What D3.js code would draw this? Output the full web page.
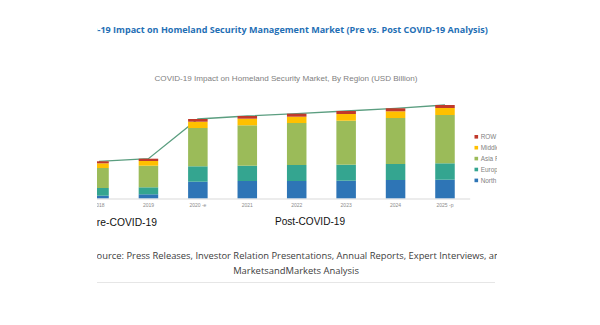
<!DOCTYPE html>
<html><head><meta charset="utf-8">
<script src="https://cdn.jsdelivr.net/npm/d3@7"></script>
<style>html,body{margin:0;padding:0;background:#fff;}svg{display:block;}</style>
</head><body>
<svg id="c" width="600" height="325"></svg>
<script>
const years = ["2018","2019","2020 -e","2021","2022","2023","2024","2025 -p"];
const regions = ["North America","Europe","Asia Pacific","Middle East","ROW"];
const northAmerica = [2.6, 4.0, 16.6, 17.3, 17.3, 17.6, 18.3, 18.6];
const europe       = [7.7, 7.0, 15.4, 15.3, 16.0, 16.0, 16.0, 16.4];
const asiaPacific  = [20.0, 21.6, 38.3, 40.4, 42.0, 44.0, 46.0, 48.3];
const middleEast   = [4.7, 4.7, 6.3, 6.6, 6.3, 6.7, 6.7, 7.0];
const row          = [2.0, 2.3, 2.7, 2.7, 3.0, 3.0, 3.0, 3.0];
const colors = ["#2e75b6","#34a590","#9bbb59","#ffc000","#c0392b"];

const mainTitle = "COVID-19 Impact on Homeland Security Management Market (Pre vs. Post COVID-19 Analysis)";
const chartTitle = "COVID-19 Impact on Homeland Security Market, By Region (USD Billion)";
const sourceLine1 = "Source: Press Releases, Investor Relation Presentations, Annual Reports, Expert Interviews, and";
const sourceLine2 = "MarketsandMarkets Analysis";

const svg = d3.select("#c");
svg.append("defs").append("clipPath").attr("id","clip")
  .append("rect").attr("x",97).attr("y",0).attr("width",400).attr("height",325);
const g = svg.append("g").attr("clip-path","url(#clip)");

const seriesArr = [northAmerica, europe, asiaPacific, middleEast, row];
const table = years.map((y,i)=>{const o={year:y}; regions.forEach((r,k)=>o[r]=seriesArr[k][i]); return o;});
const stacked = d3.stack().keys(regions)(table);

const x = d3.scaleBand().domain(years).range([74.3, 469.7]).paddingInner(0.605).paddingOuter(0.3025);
const y = d3.scaleLinear().domain([0, 120]).range([198.3, 78.3]);

// title
const t = g.append("text").attr("y",33).attr("x",0)
  .attr("font-family","'Open Sans', 'Liberation Sans', sans-serif").attr("font-weight","bold")
  .attr("font-size",9).attr("fill","#1f6fb5").text(mainTitle);
{
  const node = t.node();
  const total = node.getComputedTextLength();
  const pre = node.getSubStringLength(0,5);
  const scale = 391/(total-pre);
  t.attr("font-size", 9*scale);
  const pre2 = node.getSubStringLength(0,5);
  t.attr("x", 97.5 - pre2);
}

g.append("text").attr("x",286).attr("y",80.5).attr("text-anchor","middle")
  .attr("font-family","'Liberation Sans', Arial, sans-serif").attr("font-size",7.3)
  .attr("fill","#7f7f7f").attr("textLength",263).attr("lengthAdjust","spacingAndGlyphs").text(chartTitle);

// line behind bars
const totals = years.map((yr,i)=>d3.sum(seriesArr, s=>s[i]));
g.append("path").datum(years)
  .attr("d", d3.line().x(d=>x(d)+x.bandwidth()/2).y((d,i)=>y(totals[i])))
  .attr("fill","none").attr("stroke","#5b9e80").attr("stroke-width",1.3);

// axis
const ax = g.append("g").attr("transform","translate(0,198.5)")
  .call(d3.axisBottom(x).tickSize(0).tickPadding(5));
ax.select(".domain").attr("stroke","#d9d9d9").attr("stroke-width",1);
ax.selectAll("text").attr("font-size",5).attr("fill","#8c8c8c")
  .attr("font-family","'Liberation Sans', Arial, sans-serif");

// bars
g.selectAll("g.layer").data(stacked).join("g").attr("class","layer")
  .attr("fill",(d,i)=>colors[i])
  .selectAll("rect").data(d=>d).join("rect")
  .attr("x",d=>x(d.data.year)).attr("width",x.bandwidth())
  .attr("y",d=>y(d[1])).attr("height",d=>y(d[0])-y(d[1]));

// legend
const legendOrder = [4,3,2,1,0];
const leg = g.selectAll("g.leg").data(legendOrder).join("g").attr("class","leg")
  .attr("transform",(d,i)=>`translate(474.5,${136.8 + i*10.9})`);
leg.append("rect").attr("x",0).attr("y",-1.8).attr("width",3.6).attr("height",3.6).attr("fill",d=>colors[d]);
leg.append("text").attr("x",6.2).attr("y",2.1).attr("font-size",6.4).attr("fill","#7f7f7f")
  .attr("font-family","'Liberation Sans', Arial, sans-serif").text(d=>regions[d]);

// Pre / Post labels
g.append("text").attr("x",157).attr("y",226).attr("text-anchor","end")
  .attr("font-family","'Liberation Sans', Arial, sans-serif").attr("font-size",11)
  .attr("textLength",67).attr("lengthAdjust","spacingAndGlyphs")
  .attr("fill","#111").text("Pre-COVID-19");
g.append("text").attr("x",275).attr("y",224.5)
  .attr("font-family","'Liberation Sans', Arial, sans-serif").attr("font-size",11)
  .attr("textLength",70).attr("lengthAdjust","spacingAndGlyphs").attr("fill","#111").text("Post-COVID-19");

// source
const s1 = g.append("text").attr("x",298.5).attr("y",259).attr("text-anchor","middle")
  .attr("font-family","'Open Sans', 'Liberation Sans', sans-serif").attr("font-size",8.5)
  .attr("fill","#404040").text(sourceLine1);
{
  const n = s1.node();
  const len = sourceLine1.length;
  const vis = n.getSubStringLength(1, len-3);
  s1.attr("font-size", 8.5*398/vis);
}
const s2 = g.append("text").attr("x",296).attr("y",274).attr("text-anchor","middle")
  .attr("font-family","'Open Sans', 'Liberation Sans', sans-serif").attr("font-size",8.5)
  .attr("fill","#404040").text(sourceLine2);
{
  const n = s2.node();
  s2.attr("font-size", 8.5*126/n.getComputedTextLength());
}
g.append("line").attr("x1",97).attr("x2",495).attr("y1",282.5).attr("y2",282.5)
  .attr("stroke","#e6e6e6").attr("stroke-width",1);
</script>
</body></html>
